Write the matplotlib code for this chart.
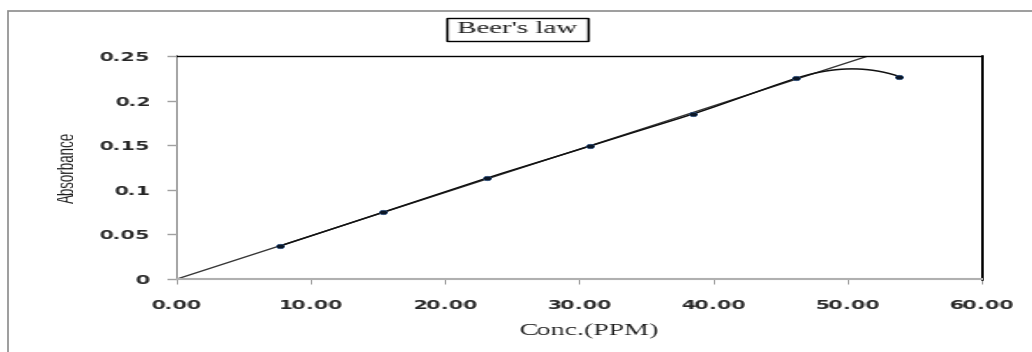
import matplotlib
matplotlib.use("Agg")
import matplotlib.pyplot as plt
import numpy as np
from matplotlib.markers import MarkerStyle
from matplotlib.patches import Rectangle
from matplotlib.transforms import Affine2D

# calibration data: concentration (ppm) and measured absorbance
conc = np.array([7.69, 15.38, 23.08, 30.77, 38.46, 46.15, 53.85])
absorb = np.array([0.037, 0.075, 0.113, 0.149, 0.185, 0.225, 0.227])
N_FIT = 6                   # points that lie on the linear range
END_SLOPE = -0.005          # tangent of the smoothed curve at the last point

x_ticks = [0, 10, 20, 30, 40, 50, 60]
y_ticks = [0, 0.05, 0.1, 0.15, 0.2, 0.25]
y_tick_labels = ["0", "0.05", "0.1", "0.15", "0.2", "0.25"]

STRETCH = 1.8               # horizontal stretch applied to the text


def hstretch(anchor, k=STRETCH):
    # agg filter: widen the rendered text horizontally
    def _filter(im, dpi):
        h, w, _ = im.shape
        nw = int(round(w * k))
        xs = np.linspace(0, w - 1, nw)
        i0 = np.floor(xs).astype(int)
        i1 = np.minimum(i0 + 1, w - 1)
        f = (xs - i0)[None, :, None]
        out = im[:, i0] * (1 - f) + im[:, i1] * f
        if anchor == "right":
            ox = w - nw
        else:
            ox = (w - nw) // 2
        return out, ox, 0
    return _filter


def hermite(x, y, m, n=40):
    # piecewise cubic hermite curve through the points
    xx, yy = [], []
    for i in range(len(x) - 1):
        h = x[i + 1] - x[i]
        t = np.linspace(0, 1, n)
        h00 = 2 * t**3 - 3 * t**2 + 1
        h10 = t**3 - 2 * t**2 + t
        h01 = -2 * t**3 + 3 * t**2
        h11 = t**3 - t**2
        xx.append(x[i] + t * h)
        yy.append(h00 * y[i] + h10 * h * m[i] + h01 * y[i + 1] + h11 * h * m[i + 1])
    return np.concatenate(xx), np.concatenate(yy)


# linear trendline through the origin
slope = np.sum(conc[:N_FIT] * absorb[:N_FIT]) / np.sum(conc[:N_FIT] ** 2)
x_trend = np.array([0, conc[-1]])

tangents = np.gradient(absorb, conc)
tangents[:N_FIT] = slope
tangents[-1] = END_SLOPE
xs, ys = hermite(conc, absorb, tangents)

fig = plt.figure(figsize=(10.32, 3.52), dpi=100)
ax = fig.add_axes([0.1715, 0.2074, 0.78, 0.6335])

# outer chart frame
fig.add_artist(Rectangle((8 / 1032, -0.1), 1.2, 1.1 - 11 / 352,
                         transform=fig.transFigure, fill=False,
                         edgecolor="#8c8c8c", linewidth=1.2))

ax.plot(x_trend, slope * x_trend, color="#3a3a3a", lw=1.0, zorder=2)
ax.plot(xs, ys, color="#111111", lw=1.1, zorder=3)
ms = MarkerStyle("o", transform=Affine2D().scale(1.8, 1.0))
ax.plot(conc, absorb, ls="none", marker=ms, markersize=3.2,
        markerfacecolor="#0b1626", markeredgecolor="#2d5283",
        markeredgewidth=0.5, zorder=4)

ax.set_xlim(0, 60)
ax.set_ylim(0, 0.25)
ax.set_xticks(x_ticks)
ax.set_xticklabels(["%.2f" % v for v in x_ticks], fontweight="bold")
ax.set_yticks(y_ticks)
ax.set_yticklabels(y_tick_labels, fontweight="bold")

ax.tick_params(axis="x", direction="out", length=3.6, width=1.0,
               color="#a0a0a0", pad=10.7, labelsize=8.5, labelcolor="#262626")
ax.tick_params(axis="y", direction="out", length=7.5, width=1.0,
               color="#a0a0a0", pad=12, labelsize=8.5, labelcolor="#262626")

ax.spines["left"].set_color("#a6a6a6")
ax.spines["left"].set_linewidth(1.5)
ax.spines["bottom"].set_color("#b0b0b0")
ax.spines["bottom"].set_linewidth(1.5)
ax.spines["top"].set_color("black")
ax.spines["top"].set_linewidth(1.0)
ax.spines["right"].set_color("black")
ax.spines["right"].set_linewidth(1.8)

ax.set_xlabel("Conc.(PPM)", family="Liberation Serif", fontsize=11.5,
              color="#1a1a1a")
ax.xaxis.set_label_coords(0.513, -0.1985)
ax.set_ylabel("Absorbance", family="Liberation Sans", fontsize=9.6,
              color="#1a1a1a")
ax.yaxis.set_label_coords(-0.135, 0.5)
ax.yaxis.label.set_verticalalignment("center")

ax.set_title("Beer's law", family="Liberation Serif", fontsize=11.5,
             x=0.4236, y=1.119, pad=0, va="center", color="#1a1a1a",
             bbox=dict(boxstyle="square,pad=0.343", mutation_aspect=0.58,
                       facecolor="white", edgecolor="black", linewidth=1.0))

# tick labels must exist before the filters are attached
fig.canvas.draw()
for lab in ax.get_xticklabels():
    lab.set_agg_filter(hstretch("center", 1.75))
for lab in ax.get_yticklabels():
    lab.set_agg_filter(hstretch("right", 1.75))
ax.xaxis.label.set_agg_filter(hstretch("center", 1.75))
ax.yaxis.label.set_agg_filter(hstretch("center"))
ax.title.set_agg_filter(hstretch("center"))

fig.savefig("out.png", dpi=100, facecolor="white")
